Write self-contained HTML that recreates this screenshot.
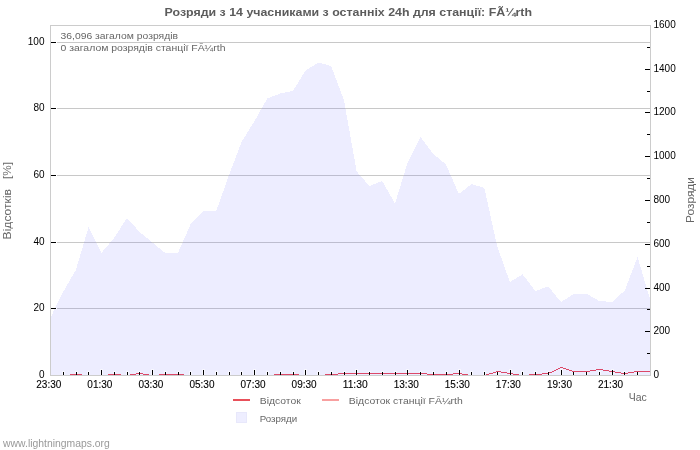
<!DOCTYPE html>
<html><head><meta charset="utf-8"><style>
html,body{margin:0;padding:0;width:700px;height:450px;overflow:hidden;background:#fff;position:relative;font-family:"Liberation Sans", sans-serif;}
</style></head><body>
<svg width="700" height="450" viewBox="0 0 700 450" style="position:absolute;left:0;top:0;will-change:transform">
<rect x="0" y="0" width="700" height="450" fill="#ffffff"/>
<line x1="50" y1="308.5" x2="650" y2="308.5" stroke="#c8c8c8" stroke-width="1"/>
<line x1="50" y1="242.5" x2="650" y2="242.5" stroke="#c8c8c8" stroke-width="1"/>
<line x1="50" y1="175.5" x2="650" y2="175.5" stroke="#c8c8c8" stroke-width="1"/>
<line x1="50" y1="108.5" x2="650" y2="108.5" stroke="#c8c8c8" stroke-width="1"/>
<line x1="50" y1="42.5" x2="650" y2="42.5" stroke="#c8c8c8" stroke-width="1"/>
<polygon points="50,375 50.30,318 63.07,292 75.83,270 88.60,227 101.36,253 114.13,238 126.90,218 139.66,232 152.43,242.5 165.19,253 177.96,253 190.73,224 203.49,211 216.26,211 229.02,175 241.79,141.5 254.56,121 267.32,98.5 280.09,93.5 292.85,91 305.62,70.5 318.39,62.5 331.15,66 343.92,100 356.68,171.5 369.45,186 382.21,181 394.98,203.5 407.75,162 420.51,137 433.28,154 446.04,164.5 458.81,194 471.58,184 484.34,188 497.11,246 509.87,282 522.64,274.4 535.41,291 548.17,286.4 560.94,302 573.70,294 586.47,293.6 599.24,301 612.00,302 624.77,290.5 637.53,257 650.30,300 650,375" fill="rgb(117,117,255)" fill-opacity="0.13" shape-rendering="crispEdges"/>
<rect x="50.5" y="25.5" width="600" height="350" fill="none" stroke="#cccccc" stroke-width="1"/>
<rect x="62.0" y="371" width="3" height="4" fill="#ffffff" fill-opacity="0.55"/>
<rect x="75.0" y="371" width="3" height="4" fill="#ffffff" fill-opacity="0.55"/>
<rect x="87.0" y="371" width="3" height="4" fill="#ffffff" fill-opacity="0.55"/>
<rect x="100.0" y="369" width="3" height="6" fill="#ffffff" fill-opacity="0.55"/>
<rect x="113.0" y="371" width="3" height="4" fill="#ffffff" fill-opacity="0.55"/>
<rect x="126.0" y="371" width="3" height="4" fill="#ffffff" fill-opacity="0.55"/>
<rect x="138.0" y="371" width="3" height="4" fill="#ffffff" fill-opacity="0.55"/>
<rect x="151.0" y="369" width="3" height="6" fill="#ffffff" fill-opacity="0.55"/>
<rect x="164.0" y="371" width="3" height="4" fill="#ffffff" fill-opacity="0.55"/>
<rect x="177.0" y="371" width="3" height="4" fill="#ffffff" fill-opacity="0.55"/>
<rect x="189.0" y="371" width="3" height="4" fill="#ffffff" fill-opacity="0.55"/>
<rect x="202.0" y="369" width="3" height="6" fill="#ffffff" fill-opacity="0.55"/>
<rect x="215.0" y="371" width="3" height="4" fill="#ffffff" fill-opacity="0.55"/>
<rect x="228.0" y="371" width="3" height="4" fill="#ffffff" fill-opacity="0.55"/>
<rect x="240.0" y="371" width="3" height="4" fill="#ffffff" fill-opacity="0.55"/>
<rect x="253.0" y="369" width="3" height="6" fill="#ffffff" fill-opacity="0.55"/>
<rect x="266.0" y="371" width="3" height="4" fill="#ffffff" fill-opacity="0.55"/>
<rect x="279.0" y="371" width="3" height="4" fill="#ffffff" fill-opacity="0.55"/>
<rect x="292.0" y="371" width="3" height="4" fill="#ffffff" fill-opacity="0.55"/>
<rect x="304.0" y="369" width="3" height="6" fill="#ffffff" fill-opacity="0.55"/>
<rect x="317.0" y="371" width="3" height="4" fill="#ffffff" fill-opacity="0.55"/>
<rect x="330.0" y="371" width="3" height="4" fill="#ffffff" fill-opacity="0.55"/>
<rect x="343.0" y="371" width="3" height="4" fill="#ffffff" fill-opacity="0.55"/>
<rect x="355.0" y="369" width="3" height="6" fill="#ffffff" fill-opacity="0.55"/>
<rect x="368.0" y="371" width="3" height="4" fill="#ffffff" fill-opacity="0.55"/>
<rect x="381.0" y="371" width="3" height="4" fill="#ffffff" fill-opacity="0.55"/>
<rect x="394.0" y="371" width="3" height="4" fill="#ffffff" fill-opacity="0.55"/>
<rect x="406.0" y="369" width="3" height="6" fill="#ffffff" fill-opacity="0.55"/>
<rect x="419.0" y="371" width="3" height="4" fill="#ffffff" fill-opacity="0.55"/>
<rect x="432.0" y="371" width="3" height="4" fill="#ffffff" fill-opacity="0.55"/>
<rect x="445.0" y="371" width="3" height="4" fill="#ffffff" fill-opacity="0.55"/>
<rect x="458.0" y="369" width="3" height="6" fill="#ffffff" fill-opacity="0.55"/>
<rect x="470.0" y="371" width="3" height="4" fill="#ffffff" fill-opacity="0.55"/>
<rect x="483.0" y="371" width="3" height="4" fill="#ffffff" fill-opacity="0.55"/>
<rect x="496.0" y="371" width="3" height="4" fill="#ffffff" fill-opacity="0.55"/>
<rect x="509.0" y="369" width="3" height="6" fill="#ffffff" fill-opacity="0.55"/>
<rect x="521.0" y="371" width="3" height="4" fill="#ffffff" fill-opacity="0.55"/>
<rect x="534.0" y="371" width="3" height="4" fill="#ffffff" fill-opacity="0.55"/>
<rect x="547.0" y="371" width="3" height="4" fill="#ffffff" fill-opacity="0.55"/>
<rect x="560.0" y="369" width="3" height="6" fill="#ffffff" fill-opacity="0.55"/>
<rect x="572.0" y="371" width="3" height="4" fill="#ffffff" fill-opacity="0.55"/>
<rect x="585.0" y="371" width="3" height="4" fill="#ffffff" fill-opacity="0.55"/>
<rect x="598.0" y="371" width="3" height="4" fill="#ffffff" fill-opacity="0.55"/>
<rect x="611.0" y="369" width="3" height="6" fill="#ffffff" fill-opacity="0.55"/>
<rect x="623.0" y="371" width="3" height="4" fill="#ffffff" fill-opacity="0.55"/>
<rect x="636.0" y="371" width="3" height="4" fill="#ffffff" fill-opacity="0.55"/>
<rect x="70" y="374" width="12" height="1" fill="#dc4868"/>
<rect x="108" y="374" width="13" height="1" fill="#dc4868"/>
<rect x="130" y="374" width="6" height="1" fill="#dc4868"/>
<rect x="136" y="373" width="7" height="1" fill="#dc4868"/>
<rect x="143" y="374" width="6" height="1" fill="#dc4868"/>
<rect x="159" y="374" width="25" height="1" fill="#dc4868"/>
<rect x="274" y="374" width="25" height="1" fill="#dc4868"/>
<rect x="325" y="374" width="13" height="1" fill="#dc4868"/>
<rect x="338" y="373" width="89" height="1" fill="#dc4868"/>
<rect x="427" y="374" width="26" height="1" fill="#dc4868"/>
<rect x="453" y="373" width="9" height="1" fill="#dc4868"/>
<rect x="462" y="374" width="6" height="1" fill="#dc4868"/>
<rect x="486" y="374" width="3" height="1" fill="#dc4868"/>
<rect x="489" y="373" width="4" height="1" fill="#dc4868"/>
<rect x="493" y="372" width="3" height="1" fill="#dc4868"/>
<rect x="496" y="371" width="5" height="1" fill="#dc4868"/>
<rect x="501" y="372" width="6" height="1" fill="#dc4868"/>
<rect x="507" y="373" width="6" height="1" fill="#dc4868"/>
<rect x="513" y="374" width="6" height="1" fill="#dc4868"/>
<rect x="529" y="374" width="13" height="1" fill="#dc4868"/>
<rect x="542" y="373" width="7" height="1" fill="#dc4868"/>
<rect x="549" y="372" width="3" height="1" fill="#dc4868"/>
<rect x="552" y="371" width="2" height="1" fill="#dc4868"/>
<rect x="554" y="370" width="2" height="1" fill="#dc4868"/>
<rect x="556" y="369" width="2" height="1" fill="#dc4868"/>
<rect x="558" y="368" width="2" height="1" fill="#dc4868"/>
<rect x="560" y="367" width="3" height="1" fill="#dc4868"/>
<rect x="563" y="368" width="3" height="1" fill="#dc4868"/>
<rect x="566" y="369" width="3" height="1" fill="#dc4868"/>
<rect x="569" y="370" width="3" height="1" fill="#dc4868"/>
<rect x="572" y="371" width="18" height="1" fill="#dc4868"/>
<rect x="590" y="370" width="6" height="1" fill="#dc4868"/>
<rect x="596" y="369" width="7" height="1" fill="#dc4868"/>
<rect x="603" y="370" width="6" height="1" fill="#dc4868"/>
<rect x="609" y="371" width="6" height="1" fill="#dc4868"/>
<rect x="615" y="372" width="6" height="1" fill="#dc4868"/>
<rect x="621" y="373" width="7" height="1" fill="#dc4868"/>
<rect x="628" y="372" width="6" height="1" fill="#dc4868"/>
<rect x="634" y="371" width="16" height="1" fill="#dc4868"/>
<line x1="63.5" y1="372" x2="63.5" y2="375" stroke="#000" stroke-width="1"/>
<line x1="76.5" y1="372" x2="76.5" y2="375" stroke="#000" stroke-width="1"/>
<line x1="88.5" y1="372" x2="88.5" y2="375" stroke="#000" stroke-width="1"/>
<line x1="101.5" y1="370" x2="101.5" y2="375" stroke="#000" stroke-width="1"/>
<line x1="114.5" y1="372" x2="114.5" y2="375" stroke="#000" stroke-width="1"/>
<line x1="127.5" y1="372" x2="127.5" y2="375" stroke="#000" stroke-width="1"/>
<line x1="139.5" y1="372" x2="139.5" y2="375" stroke="#000" stroke-width="1"/>
<line x1="152.5" y1="370" x2="152.5" y2="375" stroke="#000" stroke-width="1"/>
<line x1="165.5" y1="372" x2="165.5" y2="375" stroke="#000" stroke-width="1"/>
<line x1="178.5" y1="372" x2="178.5" y2="375" stroke="#000" stroke-width="1"/>
<line x1="190.5" y1="372" x2="190.5" y2="375" stroke="#000" stroke-width="1"/>
<line x1="203.5" y1="370" x2="203.5" y2="375" stroke="#000" stroke-width="1"/>
<line x1="216.5" y1="372" x2="216.5" y2="375" stroke="#000" stroke-width="1"/>
<line x1="229.5" y1="372" x2="229.5" y2="375" stroke="#000" stroke-width="1"/>
<line x1="241.5" y1="372" x2="241.5" y2="375" stroke="#000" stroke-width="1"/>
<line x1="254.5" y1="370" x2="254.5" y2="375" stroke="#000" stroke-width="1"/>
<line x1="267.5" y1="372" x2="267.5" y2="375" stroke="#000" stroke-width="1"/>
<line x1="280.5" y1="372" x2="280.5" y2="375" stroke="#000" stroke-width="1"/>
<line x1="293.5" y1="372" x2="293.5" y2="375" stroke="#000" stroke-width="1"/>
<line x1="305.5" y1="370" x2="305.5" y2="375" stroke="#000" stroke-width="1"/>
<line x1="318.5" y1="372" x2="318.5" y2="375" stroke="#000" stroke-width="1"/>
<line x1="331.5" y1="372" x2="331.5" y2="375" stroke="#000" stroke-width="1"/>
<line x1="344.5" y1="372" x2="344.5" y2="375" stroke="#000" stroke-width="1"/>
<line x1="356.5" y1="370" x2="356.5" y2="375" stroke="#000" stroke-width="1"/>
<line x1="369.5" y1="372" x2="369.5" y2="375" stroke="#000" stroke-width="1"/>
<line x1="382.5" y1="372" x2="382.5" y2="375" stroke="#000" stroke-width="1"/>
<line x1="395.5" y1="372" x2="395.5" y2="375" stroke="#000" stroke-width="1"/>
<line x1="407.5" y1="370" x2="407.5" y2="375" stroke="#000" stroke-width="1"/>
<line x1="420.5" y1="372" x2="420.5" y2="375" stroke="#000" stroke-width="1"/>
<line x1="433.5" y1="372" x2="433.5" y2="375" stroke="#000" stroke-width="1"/>
<line x1="446.5" y1="372" x2="446.5" y2="375" stroke="#000" stroke-width="1"/>
<line x1="459.5" y1="370" x2="459.5" y2="375" stroke="#000" stroke-width="1"/>
<line x1="471.5" y1="372" x2="471.5" y2="375" stroke="#000" stroke-width="1"/>
<line x1="484.5" y1="372" x2="484.5" y2="375" stroke="#000" stroke-width="1"/>
<line x1="497.5" y1="372" x2="497.5" y2="375" stroke="#000" stroke-width="1"/>
<line x1="510.5" y1="370" x2="510.5" y2="375" stroke="#000" stroke-width="1"/>
<line x1="522.5" y1="372" x2="522.5" y2="375" stroke="#000" stroke-width="1"/>
<line x1="535.5" y1="372" x2="535.5" y2="375" stroke="#000" stroke-width="1"/>
<line x1="548.5" y1="372" x2="548.5" y2="375" stroke="#000" stroke-width="1"/>
<line x1="561.5" y1="370" x2="561.5" y2="375" stroke="#000" stroke-width="1"/>
<line x1="573.5" y1="372" x2="573.5" y2="375" stroke="#000" stroke-width="1"/>
<line x1="586.5" y1="372" x2="586.5" y2="375" stroke="#000" stroke-width="1"/>
<line x1="599.5" y1="372" x2="599.5" y2="375" stroke="#000" stroke-width="1"/>
<line x1="612.5" y1="370" x2="612.5" y2="375" stroke="#000" stroke-width="1"/>
<line x1="624.5" y1="372" x2="624.5" y2="375" stroke="#000" stroke-width="1"/>
<line x1="637.5" y1="372" x2="637.5" y2="375" stroke="#000" stroke-width="1"/>
<rect x="51" y="308.0" width="6" height="1" fill="#ffffff"/>
<line x1="51" y1="308.5" x2="56" y2="308.5" stroke="#000" stroke-width="1"/>
<rect x="51" y="242.0" width="6" height="1" fill="#ffffff"/>
<line x1="51" y1="242.5" x2="56" y2="242.5" stroke="#000" stroke-width="1"/>
<rect x="51" y="175.0" width="6" height="1" fill="#ffffff"/>
<line x1="51" y1="175.5" x2="56" y2="175.5" stroke="#000" stroke-width="1"/>
<rect x="51" y="108.0" width="6" height="1" fill="#ffffff"/>
<line x1="51" y1="108.5" x2="56" y2="108.5" stroke="#000" stroke-width="1"/>
<rect x="51" y="42.0" width="6" height="1" fill="#ffffff"/>
<line x1="51" y1="42.5" x2="56" y2="42.5" stroke="#000" stroke-width="1"/>
<line x1="647" y1="353.5" x2="650" y2="353.5" stroke="#000" stroke-width="1"/>
<line x1="645" y1="331.5" x2="650" y2="331.5" stroke="#000" stroke-width="1"/>
<line x1="647" y1="309.5" x2="650" y2="309.5" stroke="#000" stroke-width="1"/>
<line x1="645" y1="288.5" x2="650" y2="288.5" stroke="#000" stroke-width="1"/>
<line x1="647" y1="266.5" x2="650" y2="266.5" stroke="#000" stroke-width="1"/>
<line x1="645" y1="244.5" x2="650" y2="244.5" stroke="#000" stroke-width="1"/>
<line x1="647" y1="222.5" x2="650" y2="222.5" stroke="#000" stroke-width="1"/>
<line x1="645" y1="200.5" x2="650" y2="200.5" stroke="#000" stroke-width="1"/>
<line x1="647" y1="178.5" x2="650" y2="178.5" stroke="#000" stroke-width="1"/>
<line x1="645" y1="156.5" x2="650" y2="156.5" stroke="#000" stroke-width="1"/>
<line x1="647" y1="134.5" x2="650" y2="134.5" stroke="#000" stroke-width="1"/>
<line x1="645" y1="112.5" x2="650" y2="112.5" stroke="#000" stroke-width="1"/>
<line x1="647" y1="91.5" x2="650" y2="91.5" stroke="#000" stroke-width="1"/>
<line x1="645" y1="69.5" x2="650" y2="69.5" stroke="#000" stroke-width="1"/>
<line x1="647" y1="47.5" x2="650" y2="47.5" stroke="#000" stroke-width="1"/>
<text x="44.5" y="378.0" text-anchor="end" font-family='"Liberation Sans", sans-serif' font-size="10" fill="#000">0</text>
<text x="44.5" y="311.0" text-anchor="end" font-family='"Liberation Sans", sans-serif' font-size="10" fill="#000">20</text>
<text x="44.5" y="245.0" text-anchor="end" font-family='"Liberation Sans", sans-serif' font-size="10" fill="#000">40</text>
<text x="44.5" y="178.0" text-anchor="end" font-family='"Liberation Sans", sans-serif' font-size="10" fill="#000">60</text>
<text x="44.5" y="111.0" text-anchor="end" font-family='"Liberation Sans", sans-serif' font-size="10" fill="#000">80</text>
<text x="44.5" y="45.0" text-anchor="end" font-family='"Liberation Sans", sans-serif' font-size="10" fill="#000">100</text>
<text x="653.5" y="378.0" font-family='"Liberation Sans", sans-serif' font-size="10" fill="#000">0</text>
<text x="653.5" y="334.0" font-family='"Liberation Sans", sans-serif' font-size="10" fill="#000">200</text>
<text x="653.5" y="291.0" font-family='"Liberation Sans", sans-serif' font-size="10" fill="#000">400</text>
<text x="653.5" y="247.0" font-family='"Liberation Sans", sans-serif' font-size="10" fill="#000">600</text>
<text x="653.5" y="203.0" font-family='"Liberation Sans", sans-serif' font-size="10" fill="#000">800</text>
<text x="653.5" y="159.0" font-family='"Liberation Sans", sans-serif' font-size="10" fill="#000">1000</text>
<text x="653.5" y="115.0" font-family='"Liberation Sans", sans-serif' font-size="10" fill="#000">1200</text>
<text x="653.5" y="72.0" font-family='"Liberation Sans", sans-serif' font-size="10" fill="#000">1400</text>
<text x="653.5" y="28.0" font-family='"Liberation Sans", sans-serif' font-size="10" fill="#000">1600</text>
<text x="48.80" y="388" text-anchor="middle" font-family='"Liberation Sans", sans-serif' font-size="10" fill="#000" stroke="#000" stroke-width="0.1" textLength="25" lengthAdjust="spacingAndGlyphs">23:30</text>
<text x="99.86" y="388" text-anchor="middle" font-family='"Liberation Sans", sans-serif' font-size="10" fill="#000" stroke="#000" stroke-width="0.1" textLength="25" lengthAdjust="spacingAndGlyphs">01:30</text>
<text x="150.93" y="388" text-anchor="middle" font-family='"Liberation Sans", sans-serif' font-size="10" fill="#000" stroke="#000" stroke-width="0.1" textLength="25" lengthAdjust="spacingAndGlyphs">03:30</text>
<text x="201.99" y="388" text-anchor="middle" font-family='"Liberation Sans", sans-serif' font-size="10" fill="#000" stroke="#000" stroke-width="0.1" textLength="25" lengthAdjust="spacingAndGlyphs">05:30</text>
<text x="253.06" y="388" text-anchor="middle" font-family='"Liberation Sans", sans-serif' font-size="10" fill="#000" stroke="#000" stroke-width="0.1" textLength="25" lengthAdjust="spacingAndGlyphs">07:30</text>
<text x="304.12" y="388" text-anchor="middle" font-family='"Liberation Sans", sans-serif' font-size="10" fill="#000" stroke="#000" stroke-width="0.1" textLength="25" lengthAdjust="spacingAndGlyphs">09:30</text>
<text x="355.18" y="388" text-anchor="middle" font-family='"Liberation Sans", sans-serif' font-size="10" fill="#000" stroke="#000" stroke-width="0.1" textLength="25" lengthAdjust="spacingAndGlyphs">11:30</text>
<text x="406.25" y="388" text-anchor="middle" font-family='"Liberation Sans", sans-serif' font-size="10" fill="#000" stroke="#000" stroke-width="0.1" textLength="25" lengthAdjust="spacingAndGlyphs">13:30</text>
<text x="457.31" y="388" text-anchor="middle" font-family='"Liberation Sans", sans-serif' font-size="10" fill="#000" stroke="#000" stroke-width="0.1" textLength="25" lengthAdjust="spacingAndGlyphs">15:30</text>
<text x="508.37" y="388" text-anchor="middle" font-family='"Liberation Sans", sans-serif' font-size="10" fill="#000" stroke="#000" stroke-width="0.1" textLength="25" lengthAdjust="spacingAndGlyphs">17:30</text>
<text x="559.44" y="388" text-anchor="middle" font-family='"Liberation Sans", sans-serif' font-size="10" fill="#000" stroke="#000" stroke-width="0.1" textLength="25" lengthAdjust="spacingAndGlyphs">19:30</text>
<text x="610.50" y="388" text-anchor="middle" font-family='"Liberation Sans", sans-serif' font-size="10" fill="#000" stroke="#000" stroke-width="0.1" textLength="25" lengthAdjust="spacingAndGlyphs">21:30</text>
<text x="164.6" y="16" font-family='"Liberation Sans", sans-serif' font-weight="bold" font-size="11" fill="#5c5c5c" textLength="367.4" lengthAdjust="spacingAndGlyphs">Розряди з 14 учасниками з останніх 24h для станції: FÃ¼rth</text>
<text x="60.5" y="39" font-family='"Liberation Sans", sans-serif' font-size="9.9" fill="#666" textLength="117.5" lengthAdjust="spacingAndGlyphs">36,096 загалом розрядів</text>
<text x="60.5" y="51" font-family='"Liberation Sans", sans-serif' font-size="9.9" fill="#666" textLength="165" lengthAdjust="spacingAndGlyphs">0 загалом розрядів станції FÃ¼rth</text>
<text transform="translate(11.1,239.4) rotate(-90)" x="0" y="0" font-family='"Liberation Sans", sans-serif' font-size="10.5" fill="#666" textLength="50.4" lengthAdjust="spacingAndGlyphs">Відсотків</text>
<text transform="translate(11.1,179) rotate(-90)" x="0" y="0" font-family='"Liberation Sans", sans-serif' font-size="10.5" fill="#666" textLength="17" lengthAdjust="spacingAndGlyphs">[%]</text>
<text transform="translate(694.4,223) rotate(-90)" x="0" y="0" font-family='"Liberation Sans", sans-serif' font-size="10.5" fill="#666" textLength="46" lengthAdjust="spacingAndGlyphs">Розряди</text>
<rect x="233" y="399" width="17" height="2" fill="#e8505a"/>
<text x="259.8" y="404.2" font-family='"Liberation Sans", sans-serif' font-size="9.9" fill="#666" textLength="41" lengthAdjust="spacingAndGlyphs">Відсоток</text>
<rect x="322" y="399" width="17" height="2" fill="#f8a0a0"/>
<text x="348.8" y="404.2" font-family='"Liberation Sans", sans-serif' font-size="9.9" fill="#666" textLength="114" lengthAdjust="spacingAndGlyphs">Відсоток станції FÃ¼rth</text>
<rect x="236.5" y="412.5" width="10" height="10" fill="#eeeeff" stroke="#e8e8fb" stroke-width="1"/>
<text x="259.8" y="421.8" font-family='"Liberation Sans", sans-serif' font-size="9.9" fill="#666" textLength="37.4" lengthAdjust="spacingAndGlyphs">Розряди</text>
<text x="628.8" y="401" font-family='"Liberation Sans", sans-serif' font-size="10.5" fill="#666" textLength="18" lengthAdjust="spacingAndGlyphs">Час</text>
<text x="3.1" y="447" font-family='"Liberation Sans", sans-serif' font-size="10.4" fill="#999" textLength="106.7" lengthAdjust="spacingAndGlyphs">www.lightningmaps.org</text>
</svg>
</body></html>
